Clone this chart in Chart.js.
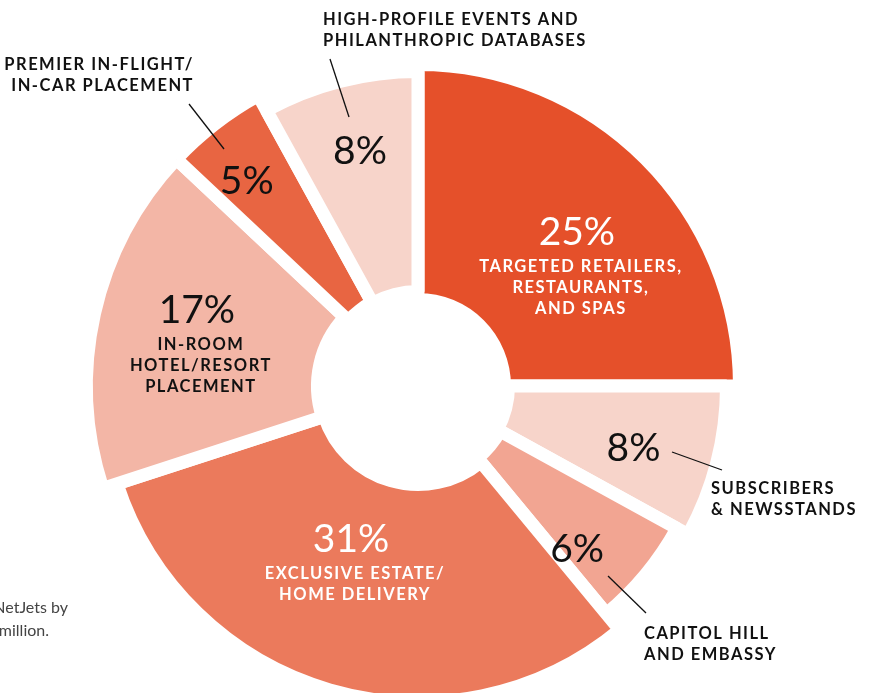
<!DOCTYPE html>
<html>
<head>
<meta charset="utf-8">
<script src="https://cdn.jsdelivr.net/npm/chart.js@4.4.1/dist/chart.umd.min.js"></script>
<style>
  html, body { margin: 0; padding: 0; background: #fff; overflow: hidden; }
  body { width: 876px; height: 693px; position: relative; }
  #chart { position: absolute; left: 0; top: 0; }
</style>
</head>
<body>
<canvas id="chart" width="876" height="772"></canvas>
<script>
// categories, clockwise from 12 o'clock
const categories = [
    ['TARGETED RETAILERS,', 'RESTAURANTS,', 'AND SPAS'],
    ['SUBSCRIBERS', '& NEWSSTANDS'],
    ['CAPITOL HILL', 'AND EMBASSY'],
    ['EXCLUSIVE ESTATE/', 'HOME DELIVERY'],
    ['IN-ROOM', 'HOTEL/RESORT', 'PLACEMENT'],
    ['PREMIER IN-FLIGHT/', 'IN-CAR PLACEMENT'],
    ['HIGH-PROFILE EVENTS AND', 'PHILANTHROPIC DATABASES']
];
const shares = [25, 8, 6, 31, 17, 5, 8];

// look of each slice
const sliceColors = ['#E5502A', '#F7D4CA', '#F2A592', '#EB7A5C', '#F3B6A6', '#E86542', '#F7D4CA'];
const outerRadii = [315, 302, 289, 310, 325, 325, 308];
const innerRadii = [93, 97, 100, 105, 107, 102, 101];
const pctColors = ['#fff', '#111', '#111', '#fff', '#111', '#111', '#111'];
const labelInside = [true, false, false, true, true, false, false];
// [angle nudge in degrees, distance from centre] for the percentage text
const pctPlace = [[0.7, 222], [1.4, 224], [5.9, 227], [7.6, 166], [6.5, 234], [-1.9, 268], [0.6, 243]];

// outside labels with leader lines
const callouts = {
    1: { x: 711, y: 488, align: 'left', line: [672, 452, 722, 470] },
    2: { x: 644, y: 633, align: 'left', line: [608, 576, 646, 613] },
    5: { x: 194, y: 64, align: 'right', line: [189, 104, 224, 149] },
    6: { x: 323, y: 19, align: 'left', line: [330, 59, 349, 117] }
};

const GAP = 13;

const ringShape = {
    id: 'ringShape',
    afterDatasetsUpdate(chart) {
        chart.getDatasetMeta(0).data.forEach((arc, i) => {
            arc.outerRadius = outerRadii[i] + GAP / 2;
            arc.innerRadius = innerRadii[i] - GAP / 2;
        });
    }
};

const sliceText = {
    id: 'sliceText',
    afterDatasetsDraw(chart) {
        const ctx = chart.ctx;
        const arcs = chart.getDatasetMeta(0).data;
        ctx.save();
        ctx.textBaseline = 'alphabetic';
        arcs.forEach((arc, i) => {
            const a = (arc.startAngle + arc.endAngle) / 2 + pctPlace[i][0] * Math.PI / 180;
            const px = arc.x + Math.cos(a) * pctPlace[i][1];
            const py = arc.y + Math.sin(a) * pctPlace[i][1];
            ctx.textAlign = 'center';
            ctx.fillStyle = pctColors[i];
            ctx.font = '400 39px Lato';
            ctx.letterSpacing = '0px';
            ctx.fillText(shares[i] + '%', px, py + 14);
            ctx.font = 'bold 16.5px Lato';
            ctx.letterSpacing = '1.5px';
            if (labelInside[i]) {
                categories[i].forEach((t, k) => ctx.fillText(t, px + 4, py + 35 + 6 + k * 21));
            } else {
                const c = callouts[i];
                ctx.fillStyle = '#111';
                ctx.textAlign = c.align;
                categories[i].forEach((t, k) => ctx.fillText(t, c.x, c.y + 6 + k * 21));
                ctx.strokeStyle = '#111';
                ctx.lineWidth = 1.3;
                ctx.beginPath();
                ctx.moveTo(c.line[0], c.line[1]);
                ctx.lineTo(c.line[2], c.line[3]);
                ctx.stroke();
            }
        });
        // note cut off at the left edge
        ctx.font = '16px Lato';
        ctx.letterSpacing = '0px';
        ctx.fillStyle = '#444';
        ctx.textAlign = 'right';
        ctx.fillText('NetJets by', 68, 613);
        ctx.fillText('million.', 49, 636);
        ctx.restore();
    }
};

new Chart(document.getElementById('chart'), {
    type: 'doughnut',
    data: {
        labels: categories.map(c => c.join(' ')),
        datasets: [{
            data: shares,
            backgroundColor: sliceColors,
            borderColor: '#ffffff',
            borderWidth: GAP,
            borderAlign: 'center',
            hoverOffset: 0
        }]
    },
    options: {
        responsive: false,
        animation: false,
        events: [],
        radius: 320,
        cutout: '30%',
        layout: { padding: { left: 0, right: 40, top: 0, bottom: 0 } },
        plugins: {
            legend: { display: false },
            tooltip: { enabled: false }
        }
    },
    plugins: [ringShape, sliceText]
});
</script>
</body>
</html>
